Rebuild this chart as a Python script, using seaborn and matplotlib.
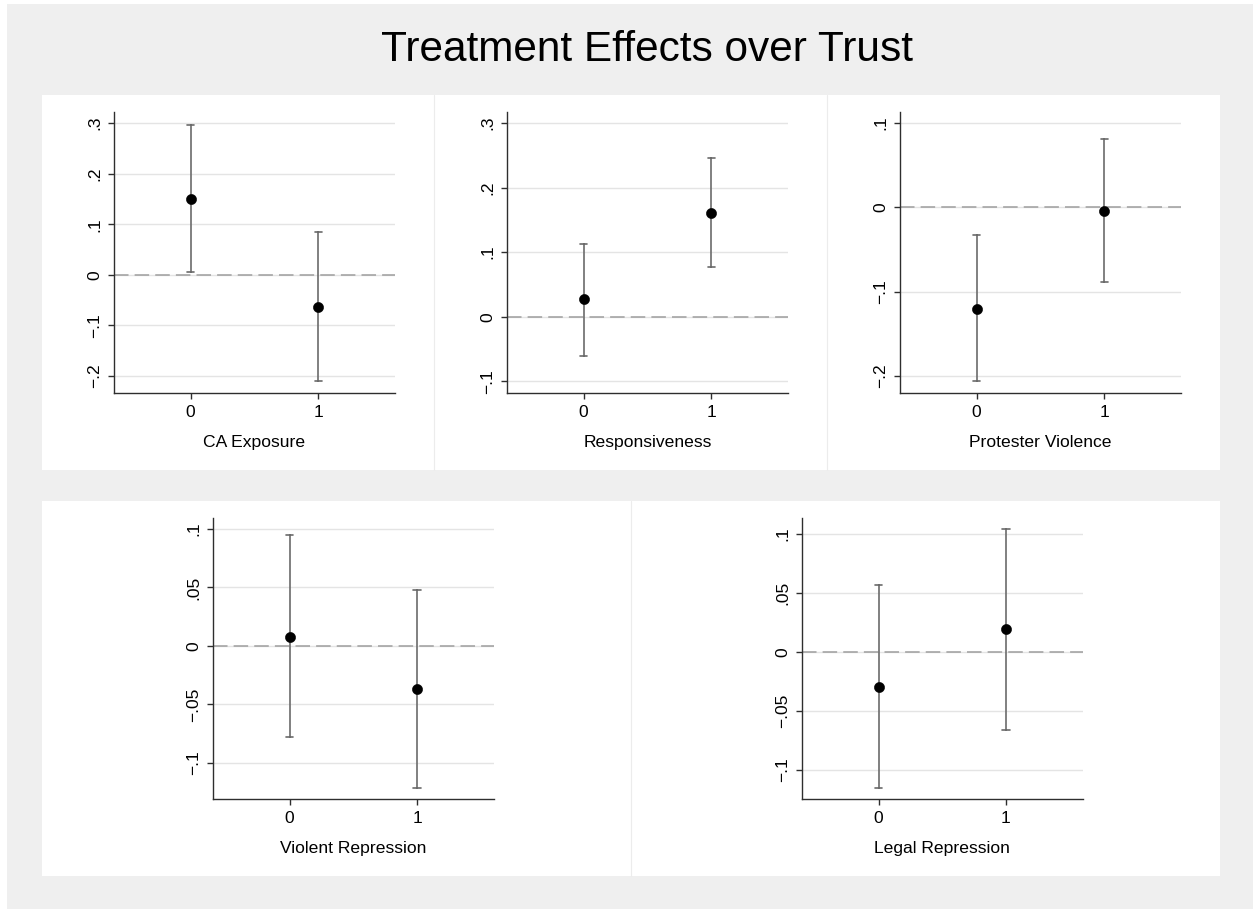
import numpy as np
import pandas as pd
import matplotlib
matplotlib.use("Agg")
import matplotlib.pyplot as plt
from matplotlib.patches import Rectangle
from matplotlib.lines import Line2D
from matplotlib.ticker import FuncFormatter, FixedLocator
import seaborn as sns

# ---- data: point estimates and 95% CI bounds for treatment = 0 / 1 ----
levels = [0, 1]

ca_est = [0.150, -0.063]
ca_lo = [0.005, -0.210]
ca_hi = [0.297, 0.085]

resp_est = [0.027, 0.161]
resp_lo = [-0.060, 0.077]
resp_hi = [0.113, 0.246]

prot_est = [-0.120, -0.004]
prot_lo = [-0.206, -0.089]
prot_hi = [-0.033, 0.081]

viol_est = [0.008, -0.037]
viol_lo = [-0.078, -0.1215]
viol_hi = [0.095, 0.048]

legal_est = [-0.030, 0.019]
legal_lo = [-0.116, -0.066]
legal_hi = [0.057, 0.1045]

ca_ticks = [-0.2, -0.1, 0.0, 0.1, 0.2, 0.3]
resp_ticks = [-0.1, 0.0, 0.1, 0.2, 0.3]
prot_ticks = [-0.2, -0.1, 0.0, 0.1]
viol_ticks = [-0.1, -0.05, 0.0, 0.05, 0.1]
legal_ticks = [-0.1, -0.05, 0.0, 0.05, 0.1]

title = "Treatment Effects over Trust"

panels = [
    ("CA Exposure", ca_est, ca_lo, ca_hi, ca_ticks),
    ("Responsiveness", resp_est, resp_lo, resp_hi, resp_ticks),
    ("Protester Violence", prot_est, prot_lo, prot_hi, prot_ticks),
    ("Violent Repression", viol_est, viol_lo, viol_hi, viol_ticks),
    ("Legal Repression", legal_est, legal_lo, legal_hi, legal_ticks),
]

# ---- layout (pixel boxes on a 1253 x 909 canvas) ----
W, H = 1253, 909
axes_px = [
    (114, 395, 112, 393),
    (507, 788, 112, 393),
    (900, 1181, 112, 393),
    (213, 493.5, 518, 799),
    (802, 1082.5, 518, 799),
]
ylims = [(-0.234, 0.322), (-0.118, 0.317), (-0.220, 0.113),
         (-0.131, 0.1094), (-0.125, 0.1136)]

sns.set_theme(style="white")
plt.rcParams["font.family"] = ["Liberation Sans", "DejaVu Sans"]
plt.rcParams["axes.unicode_minus"] = True

fig = plt.figure(figsize=(W / 100, H / 100), dpi=100, facecolor="white")


def fig_rect(x0, x1, y0, y1):
    return [x0 / W, 1 - y1 / H, (x1 - x0) / W, (y1 - y0) / H]


def add_box(x0, x1, y0, y1, color, z):
    l, b, w, h = fig_rect(x0, x1, y0, y1)
    fig.add_artist(Rectangle((l, b), w, h, transform=fig.transFigure,
                             facecolor=color, edgecolor="none", zorder=z))


def add_vline(x, y0, y1, color):
    fig.add_artist(Line2D([x / W, x / W], [1 - y0 / H, 1 - y1 / H],
                          transform=fig.transFigure, color=color,
                          lw=0.8, zorder=-8))


# outer backdrop and white panel cells
add_box(7, W + 10, 4, H + 10, "#efefef", -10)
add_box(42, 1219.5, 95, 469.5, "white", -9)
add_box(42, 1219.5, 501, 876, "white", -9)
add_vline(434, 95, 469.5, "#ececec")
add_vline(827, 95, 469.5, "#ececec")
add_vline(631, 501, 876, "#ececec")

fig.text(647 / W, 1 - 60.7 / H, title, ha="center",
         va="baseline", fontsize=30.5, color="black")


def stata_fmt(v, pos=None):
    if abs(v) < 1e-9:
        return "0"
    s = "%g" % round(abs(v), 4)
    if s.startswith("0."):
        s = s[1:]
    return ("\u2212" if v < 0 else "") + s


for (label, est, lo, hi, ticks), box, ylim in zip(panels, axes_px, ylims):
    ax = fig.add_axes(fig_rect(*box))
    ax.set_facecolor("none")

    rows = []
    for lvl, e, l, h in zip(levels, est, lo, hi):
        for v in (l, e, h):
            rows.append({"level": lvl, "value": v})
    df = pd.DataFrame(rows)

    sns.pointplot(
        data=df, x="level", y="value", order=levels,
        estimator="median",
        errorbar=lambda v: (v.min(), v.max()),
        linestyle="none", marker="o", color="black",
        markersize=7.3, markeredgewidth=0.4,
        capsize=0.057,
        err_kws={"color": "#6b6b6b", "linewidth": 1.2, "zorder": 1.8},
        ax=ax,
    )

    ax.axhline(0, color="#9e9e9e", lw=1.1, dashes=(9.5, 4), zorder=1.6)

    ax.set_xlim(-0.6, 1.6)
    ax.set_ylim(*ylim)
    ax.yaxis.set_major_locator(FixedLocator(ticks))
    ax.yaxis.set_major_formatter(FuncFormatter(stata_fmt))
    ax.set_xticks([0, 1])
    ax.set_xticklabels(["0", "1"])

    ax.yaxis.grid(True, color="#e4e4e4", lw=1.0, zorder=0)
    ax.xaxis.grid(False)
    ax.set_axisbelow(True)

    for side in ("top", "right"):
        ax.spines[side].set_visible(False)
    for side in ("left", "bottom"):
        ax.spines[side].set_color("#2e2e2e")
        ax.spines[side].set_linewidth(1.0)

    ax.tick_params(axis="both", which="major", direction="out", length=4.5,
                   width=1.0, color="#2e2e2e", labelsize=12.5,
                   labelcolor="black", bottom=True, left=True)
    ax.tick_params(axis="y", labelrotation=90, pad=4)
    ax.tick_params(axis="x", pad=4)
    for t in ax.get_yticklabels():
        t.set_verticalalignment("center")

    ax.set_xlabel(label, fontsize=12.6, labelpad=11, color="black")
    ax.set_ylabel("")

fig.savefig("out.png", dpi=100, facecolor=fig.get_facecolor())
